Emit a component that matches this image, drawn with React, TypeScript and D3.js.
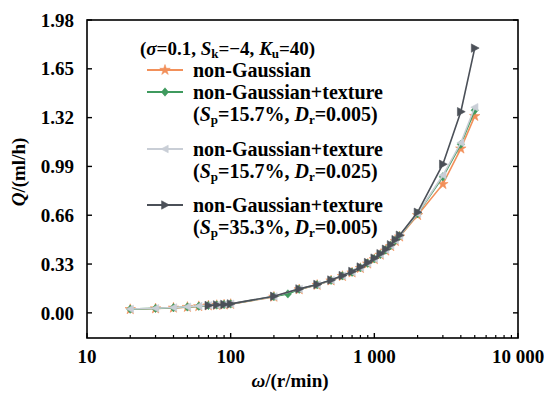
import React from "react";
import * as d3 from "d3";

// Rotational speed ω (r/min) and flow rate Q (ml/h) for each surface case
const omegaNG = [20, 30, 40, 50, 60, 70, 80, 90, 100, 200, 300, 400, 500, 600, 700, 800, 900, 1000, 1100, 1200, 1300, 1400, 1500, 2000, 3000, 4000, 5000];
const qNG = [0.024, 0.029, 0.034, 0.039, 0.044, 0.049, 0.052, 0.055, 0.059, 0.108, 0.158, 0.188, 0.218, 0.248, 0.272, 0.302, 0.332, 0.362, 0.392, 0.42, 0.45, 0.485, 0.515, 0.66, 0.87, 1.11, 1.33];

const omegaTex1 = [20, 30, 40, 50, 60, 70, 80, 90, 100, 200, 250, 300, 400, 500, 600, 700, 800, 900, 1000, 1100, 1200, 1300, 1400, 1500, 2000, 3000, 4000, 5000];
const qTex1 = [0.025, 0.03, 0.035, 0.04, 0.045, 0.05, 0.053, 0.056, 0.06, 0.11, 0.128, 0.16, 0.19, 0.22, 0.25, 0.275, 0.305, 0.335, 0.365, 0.395, 0.425, 0.455, 0.49, 0.52, 0.67, 0.92, 1.14, 1.37];

const omegaTex2 = [20, 30, 40, 50, 60, 70, 80, 90, 100, 200, 300, 400, 500, 600, 700, 800, 900, 1000, 1100, 1200, 1300, 1400, 1500, 2000, 3000, 4000, 5000];
const qTex2 = [0.026, 0.031, 0.036, 0.041, 0.046, 0.051, 0.054, 0.057, 0.061, 0.111, 0.161, 0.191, 0.221, 0.251, 0.276, 0.306, 0.336, 0.366, 0.396, 0.426, 0.456, 0.491, 0.521, 0.672, 0.93, 1.15, 1.39];

const omegaTex3 = [70, 80, 90, 100, 200, 300, 400, 500, 600, 700, 800, 900, 1000, 1100, 1200, 1300, 1400, 1500, 2000, 3000, 4000, 5000];
const qTex3 = [0.05, 0.054, 0.057, 0.061, 0.112, 0.162, 0.192, 0.222, 0.252, 0.28, 0.31, 0.34, 0.37, 0.4, 0.43, 0.46, 0.495, 0.525, 0.68, 1.005, 1.36, 1.79];

const yTicks = [0, 0.33, 0.66, 0.99, 1.32, 1.65, 1.98];
const xMajor = [10, 100, 1000, 10000];
const xMajorLabels = ["10", "100", "1 000", "10 000"];

const W = 544;
const H = 393;
const left = 87, right = 518, top = 20, bottom = 338;

const FONT = "'Liberation Serif', 'Times New Roman', serif";

type Series = {
  omega: number[];
  q: number[];
  color: string;
  marker: "star" | "diamond" | "left" | "right";
};

const series: Series[] = [
  { omega: omegaNG, q: qNG, color: "#f2905a", marker: "star" },
  { omega: omegaTex1, q: qTex1, color: "#3f9a5e", marker: "diamond" },
  { omega: omegaTex2, q: qTex2, color: "#c9ced6", marker: "left" },
  { omega: omegaTex3, q: qTex3, color: "#4b5058", marker: "right" },
];

function markerPath(kind: Series["marker"]): string {
  if (kind === "star") return d3.symbol(d3.symbolStar, 34)() as string;
  if (kind === "diamond") return "M0,-4.2L3.6,0L0,4.2L-3.6,0Z";
  if (kind === "left") return "M-4,0L3.2,-3.8L3.2,3.8Z";
  return "M4.4,0L-3.4,-4.2L-3.4,4.2Z";
}

// subscript helper: lowered small text, then the following tspan restores the baseline
function Sub({ t }: { t: string }) {
  return (
    <tspan fontSize={13} baselineShift="-25%">{t}</tspan>
  );
}

export default function App() {
  const x = d3.scaleLog().domain([10, 10000]).range([left, right]);
  const y = d3.scaleLinear().domain([-0.17, 1.98]).range([bottom, top]);

  const minor: number[] = [];
  for (let p = 10; p < 10000; p *= 10) {
    for (let k = 2; k <= 9; k++) minor.push(p * k);
  }

  const line = d3
    .line<[number, number]>()
    .x((d) => x(d[0]))
    .y((d) => y(d[1]));

  const legendRows = [
    { s: series[0], yc: 70 },
    { s: series[1], yc: 92 },
    { s: series[2], yc: 149 },
    { s: series[3], yc: 205 },
  ];

  const paren = (sp: string, dr: string, yb: number) => (
    <text x={193} y={yb}>
      (<tspan fontStyle="italic">S</tspan>
      <Sub t="p" />
      <tspan>={sp}, </tspan>
      <tspan fontStyle="italic">D</tspan>
      <Sub t="r" />
      <tspan>={dr})</tspan>
    </text>
  );

  return (
    <svg width={W} height={H} style={{ position: "absolute", left: 0, top: 0, background: "#fff" }}>
      <rect x={0} y={0} width={W} height={H} fill="#fff" />

      {/* data curves */}
      {series.map((s, i) => {
        const pts = s.omega.map((o, j) => [o, s.q[j]] as [number, number]);
        return (
          <g key={i}>
            <path d={line(pts) as string} fill="none" stroke={s.color} strokeWidth={1.6} />
            {pts.map((p, j) => (
              <path
                key={j}
                d={markerPath(s.marker)}
                transform={`translate(${x(p[0])},${y(p[1])})`}
                fill={s.color}
                stroke={s.color}
                strokeWidth={0.6}
              />
            ))}
          </g>
        );
      })}

      {/* frame */}
      <rect x={left} y={top} width={right - left} height={bottom - top} fill="none" stroke="#000" strokeWidth={1.6} />

      {/* y ticks */}
      {yTicks.map((t) => (
        <g key={t}>
          <line x1={left} x2={left + 5} y1={y(t)} y2={y(t)} stroke="#000" strokeWidth={1.4} />
          <line x1={right - 5} x2={right} y1={y(t)} y2={y(t)} stroke="#000" strokeWidth={1.4} />
          <text
            x={74}
            y={y(t)}
            dy="0.35em"
            textAnchor="end"
            fontFamily={FONT}
            fontWeight="bold"
            fontSize={19}
          >
            {t.toFixed(2)}
          </text>
        </g>
      ))}

      {/* x ticks */}
      {minor.map((m) => (
        <line key={m} x1={x(m)} x2={x(m)} y1={bottom} y2={bottom - 3} stroke="#000" strokeWidth={1.2} />
      ))}
      {xMajor.map((m, i) => (
        <g key={m}>
          <line x1={x(m)} x2={x(m)} y1={bottom} y2={bottom - 5} stroke="#000" strokeWidth={1.4} />
          <text
            x={x(m)}
            y={363}
            textAnchor="middle"
            fontFamily={FONT}
            fontWeight="bold"
            fontSize={19}
          >
            {xMajorLabels[i]}
          </text>
        </g>
      ))}

      {/* axis titles */}
      <text x={290} y={387} textAnchor="middle" fontFamily={FONT} fontWeight="bold" fontSize={19}>
        <tspan fontStyle="italic">ω</tspan>/(r/min)
      </text>
      <text
        transform={`translate(25,172) rotate(-90)`}
        textAnchor="middle"
        fontFamily={FONT}
        fontWeight="bold"
        fontSize={19}
      >
        <tspan fontStyle="italic">Q</tspan>/(ml/h)
      </text>

      {/* legend */}
      <g fontFamily={FONT} fontWeight="bold" fontSize={20}>
        <text x={140} y={55} fontSize={19}>
          (<tspan fontStyle="italic">σ</tspan>=0.1, <tspan fontStyle="italic">S</tspan>
          <Sub t="k" />
          <tspan>=−4, </tspan>
          <tspan fontStyle="italic">K</tspan>
          <Sub t="u" />
          <tspan>=40)</tspan>
        </text>
        {legendRows.map((r, i) => (
          <g key={i}>
            <line x1={147} x2={183} y1={r.yc} y2={r.yc} stroke={r.s.color} strokeWidth={2} />
            <path d={markerPath(r.s.marker)} transform={`translate(165,${r.yc})`} fill={r.s.color} stroke={r.s.color} strokeWidth={0.6} />
          </g>
        ))}
        <text x={193} y={77}>non-Gaussian</text>
        <text x={193} y={99}>non-Gaussian+texture</text>
        {paren("15.7%", "0.005", 121)}
        <text x={193} y={156}>non-Gaussian+texture</text>
        {paren("15.7%", "0.025", 178)}
        <text x={193} y={212}>non-Gaussian+texture</text>
        {paren("35.3%", "0.005", 234)}
      </g>
    </svg>
  );
}
